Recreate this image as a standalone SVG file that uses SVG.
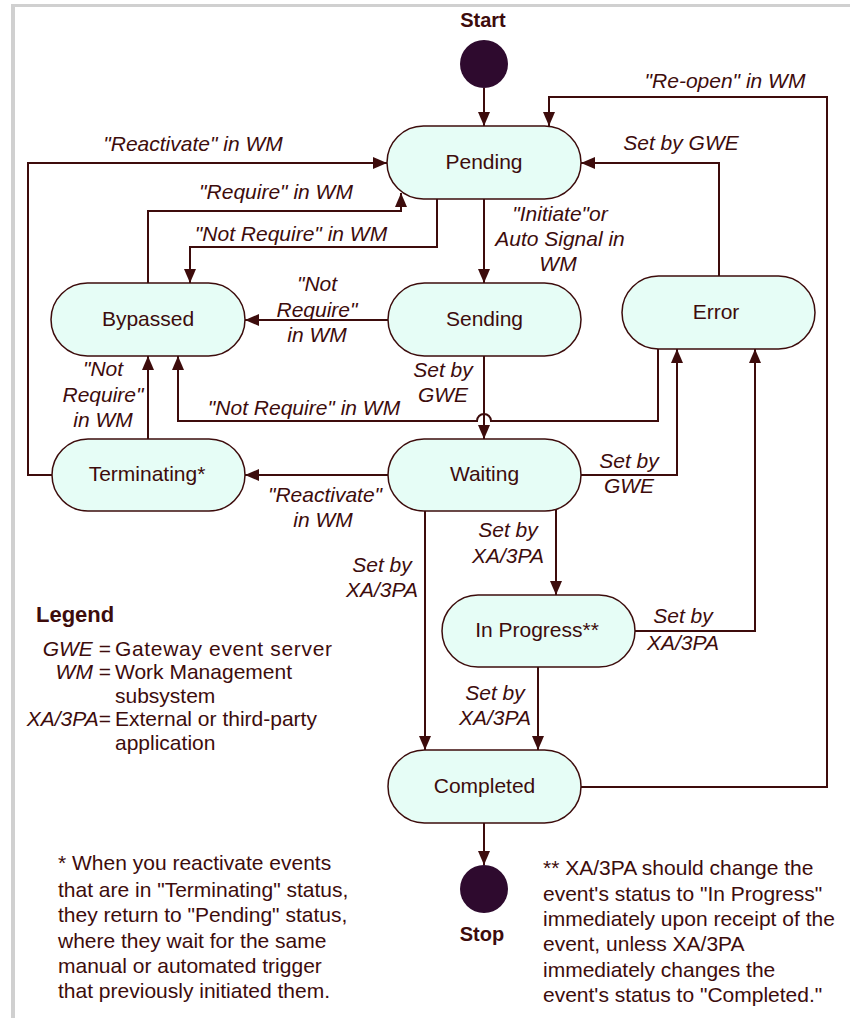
<svg xmlns="http://www.w3.org/2000/svg" width="850" height="1018" viewBox="0 0 850 1018">
<style>
.n{fill:#e6fdf6;stroke:#3d0c0c;stroke-width:1.5}
.t{font-family:"Liberation Sans",Arial,sans-serif;font-size:21px;fill:#3d0c0c}
.i{font-style:italic}
.c{text-anchor:middle}
.b{font-weight:bold}
.e{fill:none;stroke:#3d0c0c;stroke-width:2;marker-end:url(#a)}
.dot{fill:#2e0a2e}
</style>
<defs>
<marker id="a" markerUnits="userSpaceOnUse" markerWidth="14" markerHeight="14" refX="14" refY="7" orient="auto">
<path d="M0,1 L14,7 L0,13 z" fill="#3d0c0c"/>
</marker>
</defs>
<rect width="850" height="1018" fill="#ffffff"/>
<line x1="13" y1="4" x2="13" y2="1018" stroke="#d0d0d0" stroke-width="4"/>
<line x1="11" y1="5.5" x2="850" y2="5.5" stroke="#d0d0d0" stroke-width="3"/>

<g id="connectors">
<path class="e" d="M484,88 L484,126"/>
<path class="e" d="M581,787 L827,787 L827,97 L549,97 L549,126"/>
<path class="e" d="M719,276 L719,163 L581,163"/>
<path class="e" d="M484,199 L484,283"/>
<path class="e" d="M437,197 L437,247 L190,247 L190,283"/>
<path class="e" d="M148,283 L148,211 L401,211 L401,193"/>
<path class="e" d="M52,475 L28,475 L28,163 L387,163"/>
<path class="e" d="M388,320 L245,320"/>
<path class="e" d="M484,356 L484,439"/>
<path class="e" d="M658,349 L658,421 L491,421 A7,7 0 0 0 477,421 L178,421 L178,356"/>
<path class="e" d="M148,439 L148,356"/>
<path class="e" d="M388,475 L245,475"/>
<path class="e" d="M581,475 L677,475 L677,349"/>
<path class="e" d="M635,631 L755,631 L755,349"/>
<path class="e" d="M556,510 L556,595"/>
<path class="e" d="M425,511 L425,750"/>
<path class="e" d="M538,667 L538,750"/>
<path class="e" d="M484,823 L484,865"/>
</g>

<g id="edge-labels" class="t i c">
<text x="725" y="88">"Re-open" in WM</text>
<text x="681" y="150">Set by GWE</text>
<text x="193" y="151">"Reactivate" in WM</text>
<text x="276" y="199">"Require" in WM</text>
<text x="291" y="241">"Not Require" in WM</text>
<text x="560" y="221">"Initiate"or</text>
<text x="560" y="246">Auto Signal in</text>
<text x="558" y="271">WM</text>
<text x="317" y="291">"Not</text>
<text x="317" y="317">Require"</text>
<text x="317" y="342">in WM</text>
<text x="443" y="377">Set by</text>
<text x="443" y="402">GWE</text>
<text x="304" y="415">"Not Require" in WM</text>
<text x="103" y="376">"Not</text>
<text x="103" y="402">Require"</text>
<text x="103" y="427">in WM</text>
<text x="325" y="502">"Reactivate"</text>
<text x="323" y="527">in WM</text>
<text x="629" y="468">Set by</text>
<text x="629" y="493">GWE</text>
<text x="508" y="537">Set by</text>
<text x="508" y="563">XA/3PA</text>
<text x="382" y="572">Set by</text>
<text x="382" y="597">XA/3PA</text>
<text x="683" y="623">Set by</text>
<text x="683" y="650">XA/3PA</text>
<text x="495" y="700">Set by</text>
<text x="495" y="725">XA/3PA</text>
</g>

<g id="start">
<circle class="dot" cx="484" cy="64" r="24"/>
<text class="t b c" x="483" y="27" style="font-size:20px">Start</text>
</g>
<g id="pending">
<rect class="n" x="387" y="126" width="194" height="73" rx="36.5"/>
<text class="t c" x="484" y="168.5">Pending</text>
</g>
<g id="sending">
<rect class="n" x="388" y="283" width="193" height="73" rx="36.5"/>
<text class="t c" x="484.5" y="325.5">Sending</text>
</g>
<g id="bypassed">
<rect class="n" x="51" y="283" width="194" height="73" rx="36.5"/>
<text class="t c" x="148" y="325.5">Bypassed</text>
</g>
<g id="error">
<rect class="n" x="622" y="276" width="193" height="73" rx="36.5"/>
<text class="t c" x="716" y="318.5">Error</text>
</g>
<g id="waiting">
<rect class="n" x="388" y="439" width="193" height="72" rx="36"/>
<text class="t c" x="484.5" y="481">Waiting</text>
</g>
<g id="terminating">
<rect class="n" x="52" y="439" width="193" height="72" rx="36"/>
<text class="t c" x="147" y="481">Terminating*</text>
</g>
<g id="inprogress">
<rect class="n" x="442" y="595" width="193" height="72" rx="36"/>
<text class="t c" x="537" y="637">In Progress**</text>
</g>
<g id="completed">
<rect class="n" x="388" y="750" width="193" height="73" rx="36.5"/>
<text class="t c" x="484.5" y="792.5">Completed</text>
</g>
<g id="stop">
<circle class="dot" cx="484" cy="889" r="24"/>
<text class="t b c" x="482" y="941" style="font-size:20px">Stop</text>
</g>

<g id="legend" class="t">
<text class="b" x="36" y="622" style="font-size:22px">Legend</text>
<text x="111" y="656" text-anchor="end"><tspan class="i">GWE</tspan> =</text>
<text x="115" y="656" textLength="217">Gateway event server</text>
<text x="111" y="679" text-anchor="end"><tspan class="i">WM</tspan> =</text>
<text x="115" y="679">Work Management</text>
<text x="115" y="703">subsystem</text>
<text x="111" y="726" text-anchor="end"><tspan class="i">XA/3PA</tspan>=</text>
<text x="115" y="726">External or third-party</text>
<text x="115" y="750">application</text>
</g>

<g id="note1" class="t">
<text x="58" y="870">* When you reactivate events</text>
<text x="58" y="897">that are in "Terminating" status,</text>
<text x="58" y="922">they return to "Pending" status,</text>
<text x="58" y="948">where they wait for the same</text>
<text x="58" y="973">manual or automated trigger</text>
<text x="58" y="998">that previously initiated them.</text>
</g>
<g id="note2" class="t">
<text x="543" y="875">** XA/3PA should change the</text>
<text x="543" y="901">event's status to "In Progress"</text>
<text x="543" y="926">immediately upon receipt of the</text>
<text x="543" y="951">event, unless XA/3PA</text>
<text x="543" y="977">immediately changes the</text>
<text x="543" y="1002">event's status to "Completed."</text>
</g>
</svg>
